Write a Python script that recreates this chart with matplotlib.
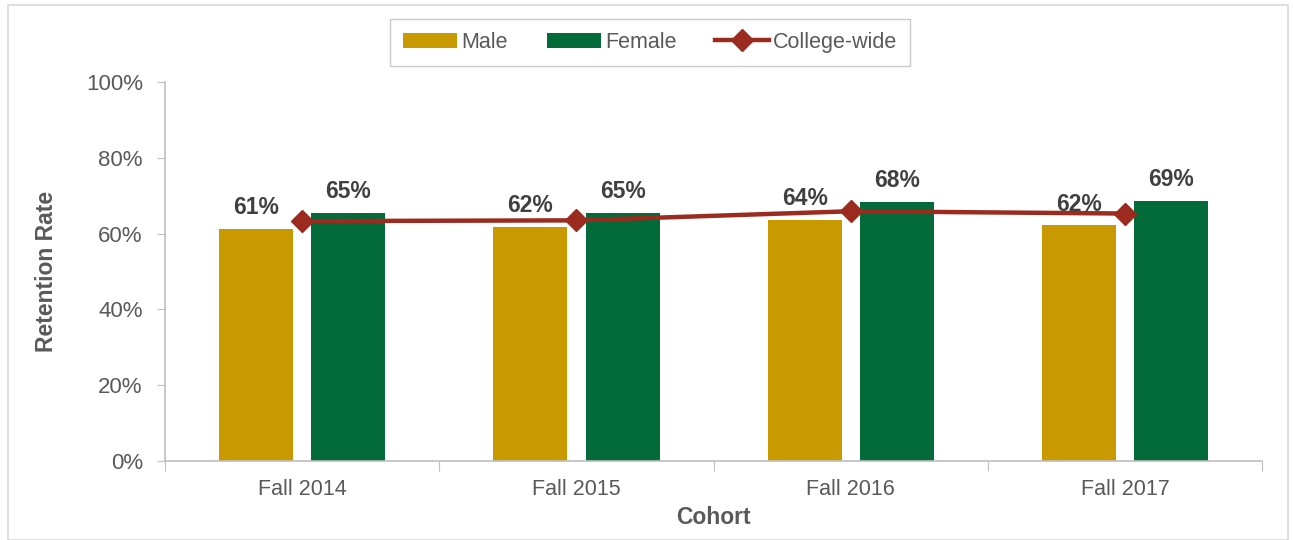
import numpy as np
import matplotlib.pyplot as plt
from matplotlib.patches import Rectangle

plt.rcParams['font.family'] = ['Liberation Sans', 'DejaVu Sans']

cohorts = ["Fall 2014", "Fall 2015", "Fall 2016", "Fall 2017"]
male = [61.3, 61.8, 63.7, 62.2]
female = [65.4, 65.4, 68.3, 68.6]
college = [63.3, 63.5, 65.9, 65.3]

gold = "#C99A00"
green = "#036B3A"
red = "#9A2B1E"
gray = "#595959"

fig = plt.figure(figsize=(12.93, 5.4), dpi=100)
ax = fig.add_axes([0.1276, 0.1463, 0.8486, 0.7018])

x = np.arange(len(cohorts))
w = 0.27
off = 0.168
b1 = ax.bar(x - off, male, w, color=gold, label="Male", zorder=2)
b2 = ax.bar(x + off, female, w, color=green, label="Female", zorder=2)
ln, = ax.plot(x, college, color=red, lw=3.2, marker="D", ms=11, label="College-wide", zorder=3)

for bars, vals in ((b1, male), (b2, female)):
    for b, v in zip(bars, vals):
        ax.annotate(f"{v:.0f}%", (b.get_x() + b.get_width() / 2, v),
                    xytext=(0, 7), textcoords="offset points",
                    ha="center", va="bottom", fontsize=16.5, fontweight="bold",
                    color="#404040")

ax.set_xlim(-0.5, 3.5)
ax.set_ylim(0, 100)
ax.set_yticks(range(0, 101, 20))
ax.set_yticklabels([f"{t}%" for t in range(0, 101, 20)])
ax.set_xticks(np.arange(-0.5, 4, 1))
ax.set_xticklabels([])
ax.set_xticks(x, minor=True)
ax.set_xticklabels(cohorts, minor=True)
ax.tick_params(axis="x", which="major", length=7, color="#BFBFBF")
ax.tick_params(axis="x", which="minor", length=0, pad=13, labelsize=15.5, labelcolor=gray)
ax.tick_params(axis="y", length=6, color="#BFBFBF", labelsize=16, labelcolor=gray, pad=10)

for s in ("top", "right"):
    ax.spines[s].set_visible(False)
for s in ("left", "bottom"):
    ax.spines[s].set_color("#BFBFBF")
    ax.spines[s].set_linewidth(1.2)

ax.set_ylabel("Retention Rate", fontsize=16.5, fontweight="bold", color=gray, labelpad=20)
ax.set_xlabel("Cohort", fontsize=16.5, fontweight="bold", color=gray, labelpad=4)

leg = fig.legend([b1, b2, ln], ["Male", "Female", "College-wide"],
                 loc="center", bbox_to_anchor=(0.503, 0.922), ncol=3, fontsize=15.5,
                 frameon=True, fancybox=False, edgecolor="#BFBFBF",
                 handlelength=2.5, handletextpad=0.2, columnspacing=1.8,
                 borderpad=0.6, borderaxespad=0)
for t in leg.get_texts():
    t.set_color(gray)

fig.patches.append(Rectangle((0.006, 0.0), 0.99, 0.99, transform=fig.transFigure,
                             fill=False, edgecolor="#D9D9D9", lw=1.2))

fig.savefig("out.png", dpi=100)
